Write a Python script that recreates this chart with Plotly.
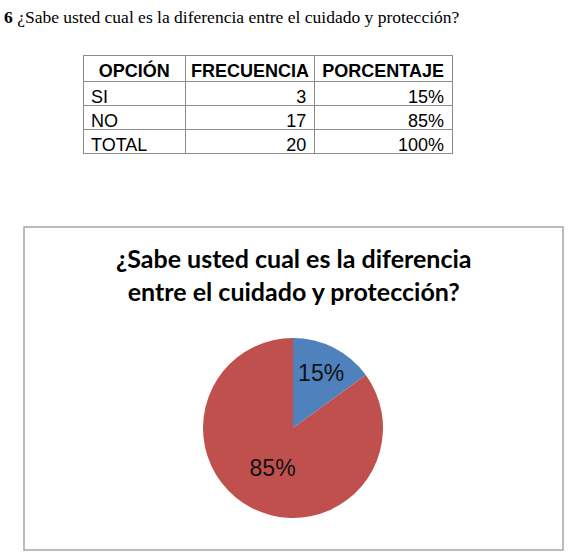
import plotly.graph_objects as go

W, H = 574, 552

opciones = ["SI", "NO", "TOTAL"]
frecuencias = [3, 17, 20]
porcentajes = ["15%", "85%", "100%"]
headers = ["OPCIÓN", "FRECUENCIA", "PORCENTAJE"]

pie_labels = ["SI", "NO"]
pie_values = [3, 17]
pie_text = ["15%", "85%"]
pie_colors = ["#4F81BD", "#C0504D"]

question = "¿Sabe usted cual es la diferencia entre el cuidado y protección?"
chart_title = "<b>¿Sabe usted cual es la diferencia<br>entre el cuidado y protección?</b>"


def px_x(x):
    return x / W


def px_y(y):
    return 1 - y / H


fig = go.Figure()

fig.add_trace(go.Table(
    domain=dict(x=[px_x(83), px_x(453)], y=[px_y(200), px_y(55)]),
    columnwidth=[103, 129, 138],
    header=dict(
        values=headers,
        fill_color="white",
        line=dict(color="#8C8C8C", width=1),
        align="center",
        height=26,
        font=dict(family="Liberation Sans, Arial", size=18, color="black", weight="bold"),
    ),
    cells=dict(
        values=[opciones, frecuencias, porcentajes],
        fill_color="white",
        line=dict(color="#8C8C8C", width=1),
        align=["left", "right", "right"],
        height=24,
        font=dict(family="Liberation Sans, Arial", size=18, color="black"),
    ),
))

fig.add_trace(go.Pie(
    labels=pie_labels,
    values=pie_values,
    text=pie_text,
    textinfo="text",
    textposition="inside",
    insidetextorientation="horizontal",
    textfont=dict(family="Liberation Sans, Arial", size=23, color="#111111"),
    marker=dict(colors=pie_colors, line=dict(width=0)),
    sort=False,
    direction="clockwise",
    rotation=0,
    hoverinfo="label+percent",
    domain=dict(x=[px_x(203), px_x(383)], y=[px_y(518), px_y(338)]),
    showlegend=False,
))

fig.add_shape(type="rect", xref="paper", yref="paper",
              x0=px_x(24), x1=px_x(563), y0=px_y(550), y1=px_y(227),
              line=dict(color="#A6A6A6", width=1.5), fillcolor="rgba(0,0,0,0)")

fig.add_annotation(xref="paper", yref="paper", x=px_x(2), y=px_y(17),
                   xanchor="left", yanchor="middle", showarrow=False,
                   text="<b>6</b> " + question,
                   font=dict(family="Liberation Serif, Times New Roman", size=17.5, color="black"))

fig.add_annotation(xref="paper", yref="paper", x=px_x(293.5), y=px_y(274),
                   xanchor="center", yanchor="middle", showarrow=False,
                   text=chart_title,
                   font=dict(family="Lato, Calibri, sans-serif", size=25, color="black"))

fig.update_layout(
    width=W, height=H,
    margin=dict(l=0, r=0, t=0, b=0),
    paper_bgcolor="white",
    plot_bgcolor="white",
)

fig.write_html("out.html")
